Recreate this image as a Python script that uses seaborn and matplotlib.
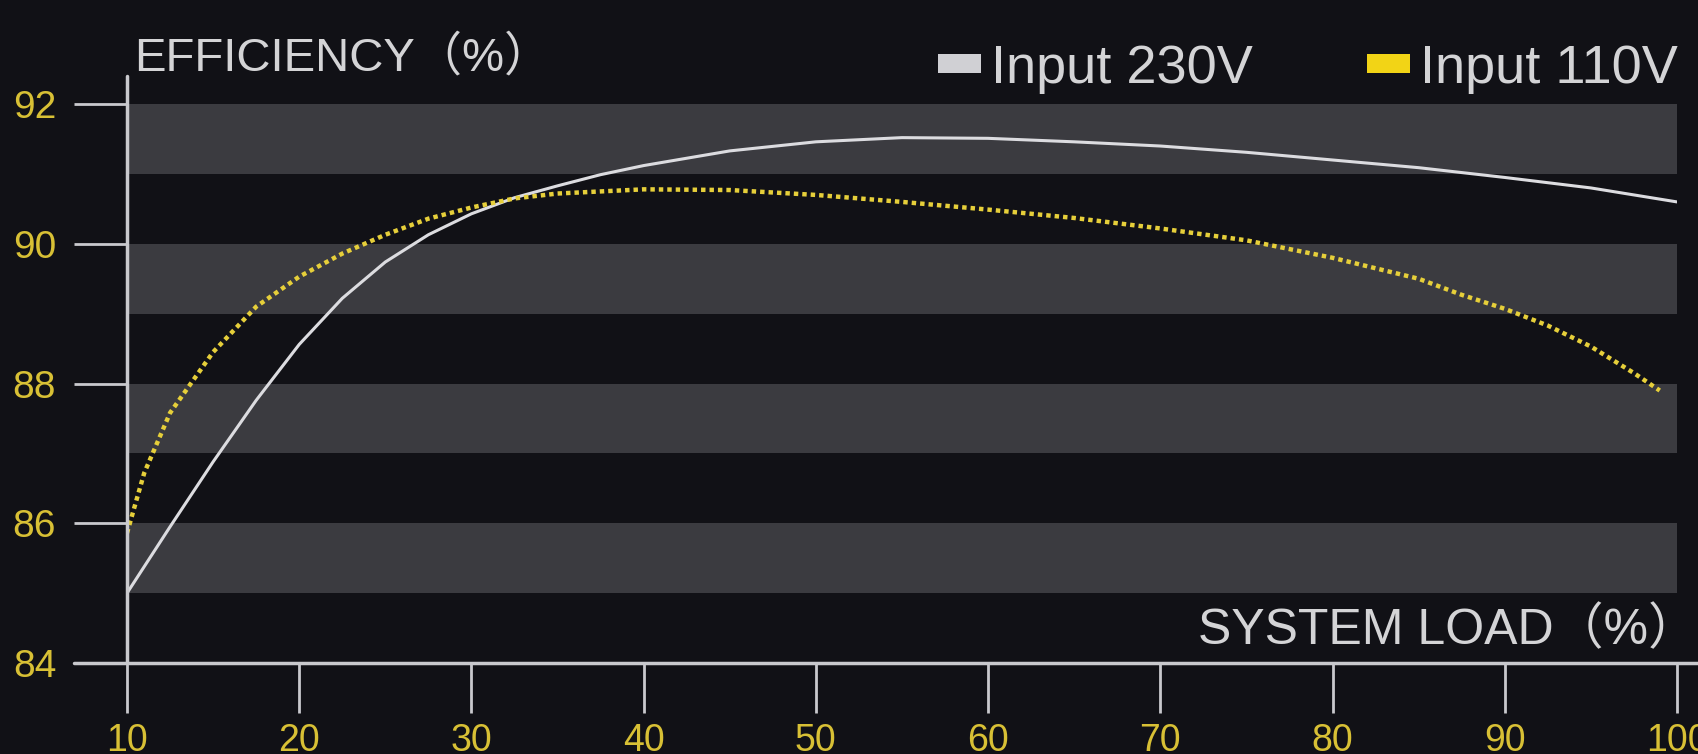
import matplotlib
matplotlib.use("Agg")
import matplotlib.pyplot as plt
import seaborn as sns
from matplotlib.patches import Patch

# ---- data ----
load_230 = [10, 12.5, 15, 17.5, 20, 22.5, 25, 27.5, 30, 32.5, 35, 37.5, 40, 45, 50, 55, 60, 65, 70, 75, 80, 85, 90, 95, 100]
eff_230 = [85.0, 85.95, 86.88, 87.76, 88.56, 89.22, 89.74, 90.13, 90.43, 90.66, 90.83, 90.99, 91.12, 91.33, 91.46,
           91.52, 91.51, 91.46, 91.40, 91.31, 91.2, 91.09, 90.95, 90.8, 90.6]
load_110 = [10, 11, 12.5, 15, 17.5, 20, 22.5, 25, 27.5, 30, 32.5, 35, 40, 45, 50, 55, 60, 65, 70, 75, 80, 85,
            87.5, 90, 92.5, 95, 97.5, 99]
eff_110 = [85.86, 86.72, 87.58, 88.45, 89.1, 89.53, 89.86, 90.13, 90.36, 90.52, 90.65, 90.72, 90.78, 90.77,
           90.7, 90.6, 90.49, 90.37, 90.22, 90.05, 89.8, 89.5, 89.27, 89.07, 88.83, 88.53, 88.15, 87.9]
x_ticks = [10, 20, 30, 40, 50, 60, 70, 80, 90, 100]
y_ticks = [84, 86, 88, 90, 92]
band_lows = [85, 87, 89, 91]
series_labels = ["Input 230V", "Input 110V"]
y_title = "EFFICIENCY（%）"
x_title = "SYSTEM LOAD（%）"

# ---- style ----
BG = "#111116"
BAND = "#3b3b40"
AXIS = "#c9c9cd"
WHITE_LINE = "#dcdce0"
YEL_LINE = "#e6cf3a"
YEL_TXT = "#d8c035"
TXT = "#d4d4d6"

sns.set_theme(style="ticks")
plt.rcParams["font.family"] = ["Liberation Sans", "Noto Sans CJK SC", "DejaVu Sans"]

fig = plt.figure(figsize=(16.98, 7.54), dpi=100, facecolor=BG)
ax = fig.add_axes([0.0748, 0.1207, 0.9128, 0.7783])
ax.set_facecolor(BG)

for lo in band_lows:
    ax.axhspan(lo, lo + 1, color=BAND, lw=0, zorder=0)

sns.lineplot(x=load_230, y=eff_230, color=WHITE_LINE, lw=2.2, ax=ax, zorder=3)
sns.lineplot(x=load_110, y=eff_110, color=YEL_LINE, lw=3.2, ax=ax, zorder=4)
ax.lines[-1].set_dashes([1.0, 0.9])

ax.set_xlim(10, 100)
ax.set_ylim(84, 92.4)
ax.set_xticks(x_ticks)
ax.set_yticks(y_ticks)
ax.set_xlabel("")
ax.set_ylabel("")
for s in ax.spines.values():
    s.set_visible(False)
ax.grid(False)

ax.tick_params(axis="x", bottom=True, direction="out", length=36, width=2, color=AXIS,
               pad=7, labelsize=27, labelcolor=YEL_TXT)
ax.tick_params(axis="y", left=True, direction="out", length=38, width=2, color=AXIS,
               pad=13, labelsize=28, labelcolor=YEL_TXT)

# axis lines
ax.plot([-0.034, 1.02], [0, 0], transform=ax.transAxes, clip_on=False, color=AXIS, lw=2.5, zorder=5)
ax.plot([0, 0], [0, 1], transform=ax.transAxes, clip_on=False, color=AXIS, lw=2.5, zorder=5)

fig.text(134 / 1698, 1 - 58 / 754, y_title, fontsize=34, color=TXT, ha="left", va="center")
fig.text(1.0, 1 - 630 / 754, x_title, fontsize=36, color=TXT, ha="right", va="center")

handles = [Patch(facecolor="#d0d0d4", edgecolor="none"), Patch(facecolor="#f2d416", edgecolor="none")]
fig.legend(handles, series_labels, loc="center right", bbox_to_anchor=(0.988, 0.908), ncol=2,
           frameon=False, fontsize=39, handlelength=0.8, handleheight=0.16, handletextpad=0.18,
           columnspacing=2.1, labelcolor=TXT, borderpad=0, borderaxespad=0)

fig.savefig("out.png", dpi=100, facecolor=BG)
